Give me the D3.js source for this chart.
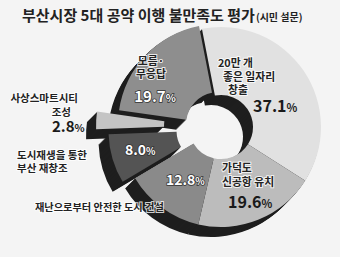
<!DOCTYPE html>
<html>
<head>
<meta charset="utf-8">
<script src="https://cdn.jsdelivr.net/npm/d3@7"></script>
<style>
  body { margin: 0; background: #f4f4f4; }
  svg { display: block; font-family: "Noto Sans CJK KR", "Noto Sans", sans-serif; }
</style>
</head>
<body>
<svg id="chart" width="340" height="257"></svg>
<script>
// 데이터
const categories = ["20만 개 좋은 일자리 창출", "가덕도 신공항 유치", "재난으로부터 안전한 도시 건설",
                    "도시재생을 통한 부산 재창조", "사상스마트시티 조성", "모름·무응답"];
const values = [37.1, 19.6, 12.8, 8.0, 2.8, 19.7];

// 모양
const colors = ["#e1e1e1", "#bcbcbc", "#8a8a8a", "#545454", "#c4c4c4", "#8e8e8e"];
const explode = [0, 0, 0, 13, 25, 4];

const svg = d3.select("#chart");
const cx = 221, cy = 127, depth = 10;

const pie = d3.pie().sort(null).value(d => d.value)
    .startAngle(-11 * Math.PI / 180)
    .endAngle(-11 * Math.PI / 180 + 2 * Math.PI);
const arc = d3.arc().innerRadius(32).outerRadius(100);

const slices = pie(categories.map((c, i) => ({ name: c, value: values[i], i: i })));

function offset(d) {
    const mid = (d.startAngle + d.endAngle) / 2;
    const e = explode[d.data.i];
    return [Math.sin(mid) * e, -Math.cos(mid) * e];
}

const g = svg.append("g").attr("transform", `translate(${cx},${cy})`);

// 입체 옆면
for (let k = depth; k >= 1; k--) {
    g.append("g").selectAll("path")
        .data(slices)
        .join("path")
        .attr("d", arc)
        .attr("fill", "#1e1e1e")
        .attr("transform", d => {
            const o = offset(d);
            return `translate(${o[0] - k},${o[1] + k})`;
        });
}

// 윗면
g.append("g").selectAll("path")
    .data(slices)
    .join("path")
    .attr("d", arc)
    .attr("fill", (d, i) => colors[i])
    .attr("transform", d => {
        const o = offset(d);
        return `translate(${o[0]},${o[1]})`;
    });

// 제목
const title = svg.append("text").attr("x", 22).attr("y", 21)
    .attr("fill", "#222").style("font-weight", "bold").style("font-size", "15px");
title.append("tspan").text("부산시장 5대 공약 이행 불만족도 평가");
title.append("tspan").text("(시민 설문)").style("font-size", "10px").attr("dx", 1);

// 라벨
function label(lines, x, y, size, anchor, lh) {
    const t = svg.append("text").attr("x", x).attr("y", y)
        .attr("text-anchor", anchor)
        .style("font-size", size + "px")
        .style("font-weight", "600")
        .attr("fill", "#222")
        .attr("stroke", "#fff")
        .attr("stroke-width", 2)
        .attr("stroke-opacity", 0.8)
        .attr("paint-order", "stroke");
    lines.forEach((l, j) => {
        t.append("tspan").attr("x", x).attr("dy", j === 0 ? 0 : lh).text(l);
    });
}

function pct(v, x, y, size, anchor, white) {
    const t = svg.append("text").attr("x", x).attr("y", y)
        .attr("text-anchor", anchor)
        .style("font-weight", "bold")
        .attr("fill", white ? "#fff" : "#1a1a1a")
        .attr("stroke", white ? "#333" : "none")
        .attr("stroke-width", 1.5)
        .attr("paint-order", "stroke");
    t.append("tspan").text(d3.format(".1f")(v)).style("font-size", size + "px");
    t.append("tspan").text("%").style("font-size", (size * 0.7) + "px");
}

label(["20만 개"], 218, 67, 10.8, "start", 0);
label(["좋은 일자리"], 223, 81, 10.8, "start", 0);
label(["창출"], 228, 94, 10.8, "start", 0);
pct(values[0], 253, 112, 16, "start", false);

label(["가덕도", "신공항 유치"], 222, 172, 10.8, "start", 14);
pct(values[1], 228, 208, 16, "start", false);

label(["재난으로부터 안전한 도시 건설"], 35, 211, 10.2, "start", 0);
pct(values[2], 166, 185, 14, "start", true);

label(["도시재생을 통한", "부산 재창조"], 17, 159, 10.5, "start", 12.5);
pct(values[3], 125, 155, 14, "start", true);

label(["사상스마트시티"], 78, 102, 10.5, "end", 0);
label(["조성"], 71, 116, 10.5, "end", 0);
pct(values[4], 52, 132, 15, "start", false);

label(["모름·", "무응답"], 151, 65, 10.8, "middle", 13);
pct(values[5], 155, 102, 15, "middle", true);
</script>
</body>
</html>
